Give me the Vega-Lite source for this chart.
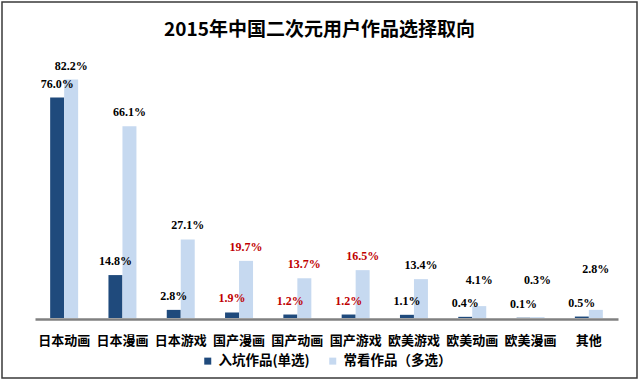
{
  "$schema": "https://vega.github.io/schema/vega-lite/v6.json",
  "width": 635,
  "height": 376,
  "autosize": {"type": "none"},
  "padding": {"left": 2, "top": 2, "right": 3, "bottom": 4},
  "background": "white",
  "config": {"view": {"stroke": "#3a3a3a", "strokeWidth": 1.5}},
  "title": {
    "text": "2015年中国二次元用户作品选择取向",
    "font": "Noto Sans CJK SC",
    "fontSize": 19,
    "fontWeight": "bold",
    "color": "#000000",
    "anchor": "middle",
    "offset": -38
  },
  "data": {
    "values": [
      {"category": "日本动画", "series": "入坑作品(单选)", "value": 0.760},
      {"category": "日本动画", "series": "常看作品（多选）", "value": 0.822},
      {"category": "日本漫画", "series": "入坑作品(单选)", "value": 0.148},
      {"category": "日本漫画", "series": "常看作品（多选）", "value": 0.661},
      {"category": "日本游戏", "series": "入坑作品(单选)", "value": 0.028},
      {"category": "日本游戏", "series": "常看作品（多选）", "value": 0.271},
      {"category": "国产漫画", "series": "入坑作品(单选)", "value": 0.019},
      {"category": "国产漫画", "series": "常看作品（多选）", "value": 0.197},
      {"category": "国产动画", "series": "入坑作品(单选)", "value": 0.012},
      {"category": "国产动画", "series": "常看作品（多选）", "value": 0.137},
      {"category": "国产游戏", "series": "入坑作品(单选)", "value": 0.012},
      {"category": "国产游戏", "series": "常看作品（多选）", "value": 0.165},
      {"category": "欧美游戏", "series": "入坑作品(单选)", "value": 0.011},
      {"category": "欧美游戏", "series": "常看作品（多选）", "value": 0.134},
      {"category": "欧美动画", "series": "入坑作品(单选)", "value": 0.004},
      {"category": "欧美动画", "series": "常看作品（多选）", "value": 0.041},
      {"category": "欧美漫画", "series": "入坑作品(单选)", "value": 0.001},
      {"category": "欧美漫画", "series": "常看作品（多选）", "value": 0.003},
      {"category": "其他", "series": "入坑作品(单选)", "value": 0.005},
      {"category": "其他", "series": "常看作品（多选）", "value": 0.028}
    ]
  },
  "encoding": {
    "x": {
      "field": "category",
      "type": "nominal",
      "sort": null,
      "scale": {"range": [33, 616], "paddingInner": 0.52, "paddingOuter": 0.26},
      "axis": {
        "title": null,
        "orient": "bottom",
        "offset": -59,
        "domainColor": "#808080",
        "domainWidth": 2.5,
        "ticks": false,
        "grid": false,
        "labelAngle": 0,
        "labelFont": "Noto Sans CJK SC",
        "labelFontWeight": "bold",
        "labelFontSize": 13,
        "labelColor": "#000000",
        "labelPadding": 15,
        "labelOverlap": false,
        "labelBound": false
      }
    },
    "xOffset": {
      "field": "series",
      "type": "nominal",
      "sort": ["入坑作品(单选)", "常看作品（多选）"],
      "scale": {"paddingInner": 0}
    },
    "y": {
      "field": "value",
      "type": "quantitative",
      "scale": {"domain": [0, 0.9], "range": [316, 55]},
      "axis": null
    }
  },
  "layer": [
    {
      "mark": {"type": "bar"},
      "encoding": {
        "color": {
          "field": "series",
          "type": "nominal",
          "scale": {
            "domain": ["入坑作品(单选)", "常看作品（多选）"],
            "range": ["#1F4A7C", "#C6D9F0"]
          },
          "legend": {
            "title": null,
            "orient": "none",
            "legendX": 199,
            "legendY": 352,
            "direction": "horizontal",
            "symbolType": "square",
            "symbolSize": 49,
            "symbolStrokeWidth": 0,
            "labelFont": "Noto Sans CJK SC",
            "labelFontWeight": "bold",
            "labelFontSize": 13.5,
            "labelColor": "#000000",
            "labelOffset": 4,
            "columnPadding": 16,
            "padding": 0
          }
        }
      }
    },
    {
      "transform": [
        {"filter": "!(datum.series === '常看作品（多选）' && datum.value < 0.05)"}
      ],
      "mark": {
        "type": "text",
        "dy": -14,
        "font": "Liberation Serif",
        "fontWeight": "bold",
        "fontSize": 12,
        "baseline": "middle"
      },
      "encoding": {
        "text": {"field": "value", "type": "quantitative", "format": ".1%"},
        "color": {
          "condition": {"test": "indexof(datum.category, '国产') === 0", "value": "#C00000"},
          "value": "#000000"
        }
      }
    },
    {
      "transform": [
        {"filter": "datum.series === '常看作品（多选）' && datum.value < 0.05 && datum.category !== '其他'"}
      ],
      "mark": {
        "type": "text",
        "dy": -38,
        "font": "Liberation Serif",
        "fontWeight": "bold",
        "fontSize": 12,
        "baseline": "middle",
        "color": "#000000"
      },
      "encoding": {
        "y": {"datum": 0, "type": "quantitative"},
        "text": {"field": "value", "type": "quantitative", "format": ".1%"}
      }
    },
    {
      "transform": [
        {"filter": "datum.series === '常看作品（多选）' && datum.category === '其他'"}
      ],
      "mark": {
        "type": "text",
        "dy": -49,
        "font": "Liberation Serif",
        "fontWeight": "bold",
        "fontSize": 12,
        "baseline": "middle",
        "color": "#000000"
      },
      "encoding": {
        "y": {"datum": 0, "type": "quantitative"},
        "text": {"field": "value", "type": "quantitative", "format": ".1%"}
      }
    }
  ]
}
